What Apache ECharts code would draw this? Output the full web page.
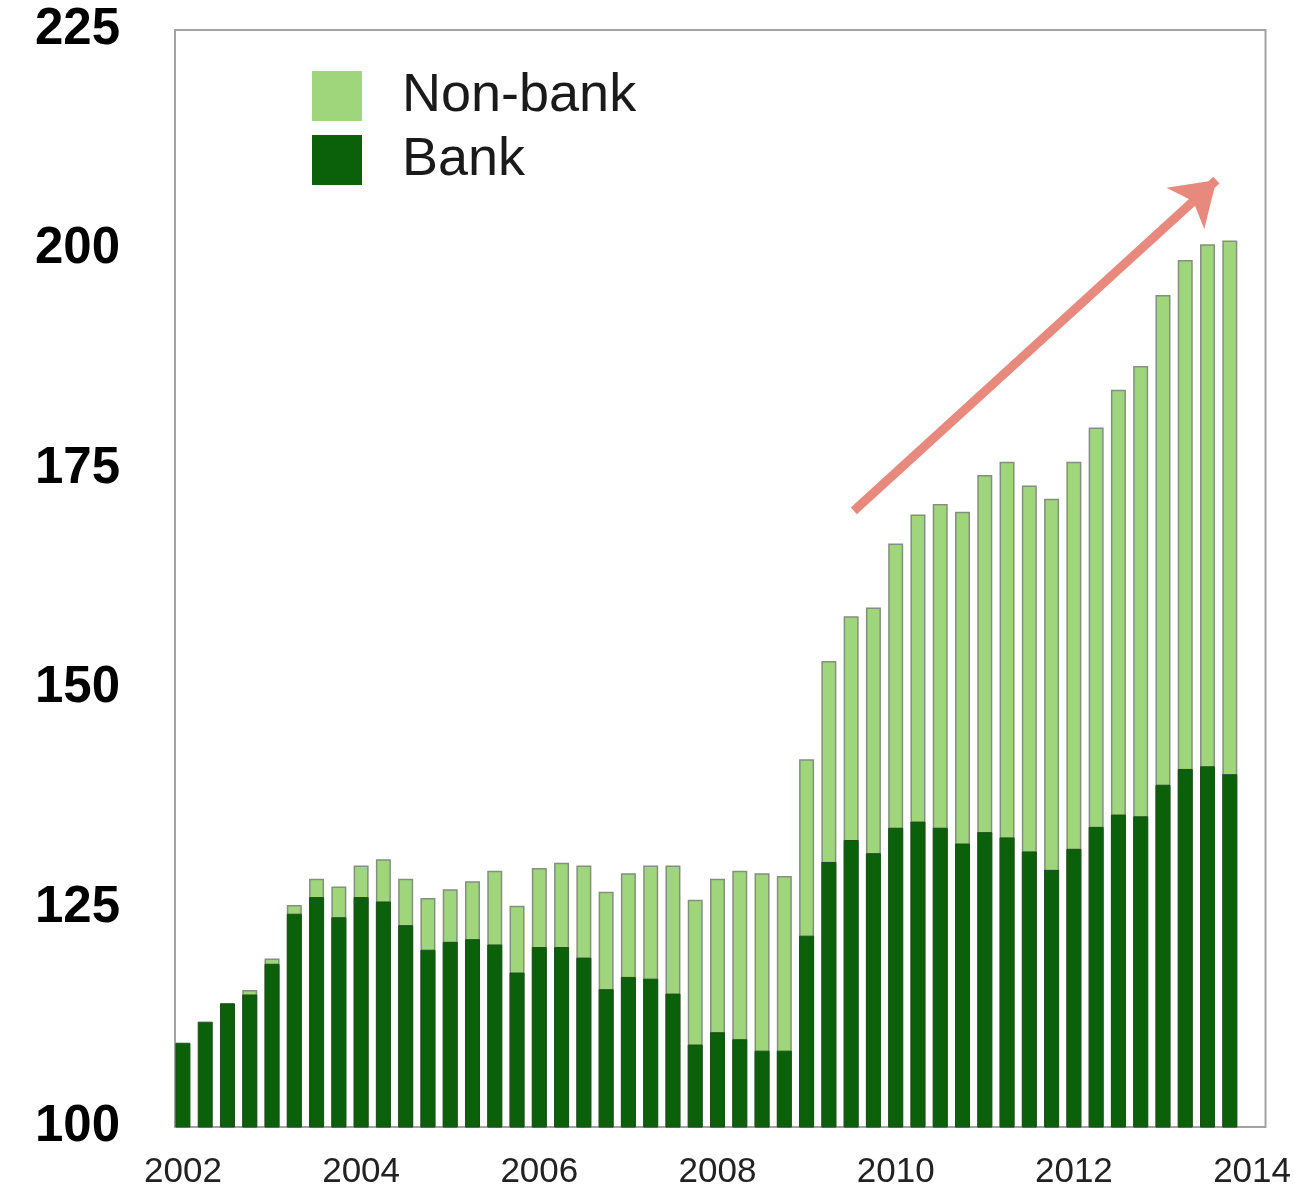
<!DOCTYPE html>
<html><head><meta charset="utf-8">
<script src="https://cdn.jsdelivr.net/npm/echarts@6/dist/echarts.min.js"></script>
<style>html,body{margin:0;padding:0;background:#fff}#c{width:1294px;height:1190px}</style>
</head><body><div id="c"></div>
<script>
const quarters = [
  '2002Q1','2002Q2','2002Q3','2002Q4','2003Q1','2003Q2','2003Q3','2003Q4',
  '2004Q1','2004Q2','2004Q3','2004Q4','2005Q1','2005Q2','2005Q3','2005Q4',
  '2006Q1','2006Q2','2006Q3','2006Q4','2007Q1','2007Q2','2007Q3','2007Q4',
  '2008Q1','2008Q2','2008Q3','2008Q4','2009Q1','2009Q2','2009Q3','2009Q4',
  '2010Q1','2010Q2','2010Q3','2010Q4','2011Q1','2011Q2','2011Q3','2011Q4',
  '2012Q1','2012Q2','2012Q3','2012Q4','2013Q1','2013Q2','2013Q3','2013Q4'
];
const bank = [
  109.6, 112.0, 114.1, 115.1, 118.6, 124.3, 126.2, 123.9,
  126.2, 125.7, 123.0, 120.2, 121.1, 121.4, 120.8, 117.6,
  120.5, 120.5, 119.3, 115.7, 117.1, 116.9, 115.2, 109.4,
  110.8, 110.0, 108.7, 108.7, 121.8, 130.2, 132.7, 131.2,
  134.1, 134.8, 134.1, 132.3, 133.6, 133.0, 131.4, 129.3,
  131.7, 134.2, 135.6, 135.4, 139.0, 140.8, 141.1, 140.2
];
const nonBank = [
  0, 0, 0, 0.5, 0.6, 1.0, 2.1, 3.5,
  3.6, 4.8, 5.3, 5.9, 6.0, 6.6, 8.4, 7.6,
  9.0, 9.6, 10.5, 11.1, 11.8, 12.9, 14.6, 16.5,
  17.5, 19.2, 20.2, 19.9, 20.1, 22.9, 25.5, 28.0,
  32.4, 35.0, 36.9, 37.8, 40.7, 42.8, 41.7, 42.3,
  44.1, 45.5, 48.4, 51.3, 55.8, 58.0, 59.5, 60.8
];
const yTicks = [100, 125, 150, 175, 200, 225];
const xTickYears = [2002, 2004, 2006, 2008, 2010, 2012, 2014];
const trendArrow = [[2009.53, 170.2], [2013.60, 207.9]];

const xOf = q => Number(q.slice(0, 4)) + (Number(q.slice(5)) - 1) / 4;
const bankData = quarters.map((q, i) => [xOf(q), bank[i]]);
// Non-bank sits on top of bank: drawn as the bank + non-bank total behind the bank bar
const nonBankTopData = quarters.map((q, i) => [xOf(q), nonBank[i] > 0 ? +(bank[i] + nonBank[i]).toFixed(2) : null]);

const FONT = 'Liberation Sans, Arial, sans-serif';
const chart = echarts.init(document.getElementById('c'), null, {renderer: 'canvas'});
chart.setOption({
  animation: false,
  backgroundColor: '#ffffff',
  textStyle: {fontFamily: FONT},
  grid: {left: 175, right: 22, top: 30, bottom: 59, show: true, borderColor: '#a3a3a3', borderWidth: 2, containLabel: false},
  legend: {
    data: ['Non-bank', 'Bank'], orient: 'vertical', left: 312, top: 65, padding: 0,
    itemWidth: 50, itemHeight: 50, itemGap: 2, icon: 'rect',
    itemStyle: {borderWidth: 0},
    textStyle: {fontSize: 54, lineHeight: 54, color: '#1a1a1a', padding: [8, 0, 0, 35], fontFamily: FONT}
  },
  xAxis: {
    type: 'value', min: 2001.911, max: 2014.151,
    splitLine: {show: false}, axisLine: {show: false}, axisTick: {show: false},
    axisLabel: {customValues: xTickYears, fontSize: 35, color: '#222', margin: 28, formatter: v => String(Math.round(v))}
  },
  yAxis: {
    type: 'value', min: yTicks[0], max: yTicks[yTicks.length - 1], interval: 25,
    splitLine: {show: false}, axisLine: {show: false}, axisTick: {show: false},
    axisLabel: {fontSize: 51, fontWeight: 'bold', color: '#000', margin: 55}
  },
  series: [
    {
      name: 'Non-bank', type: 'bar', barWidth: 15, barGap: '-100%', data: nonBankTopData,
      itemStyle: {color: '#9fd67c', borderColor: '#858f7e', borderWidth: 1.5},
      markLine: {
        silent: true, animation: false,
        symbol: ['none', 'arrow'], symbolSize: [42, 42],
        label: {show: false},
        lineStyle: {color: '#e8897e', width: 9, type: 'solid', opacity: 1},
        emphasis: {disabled: true},
        data: [[{coord: trendArrow[0]}, {coord: trendArrow[1]}]]
      }
    },
    {
      name: 'Bank', type: 'bar', barWidth: 15, barGap: '-100%', data: bankData, z: 3,
      itemStyle: {color: '#0a610a', borderColor: '#1c4d1c', borderWidth: 1}
    }
  ]
});
</script></body></html>
